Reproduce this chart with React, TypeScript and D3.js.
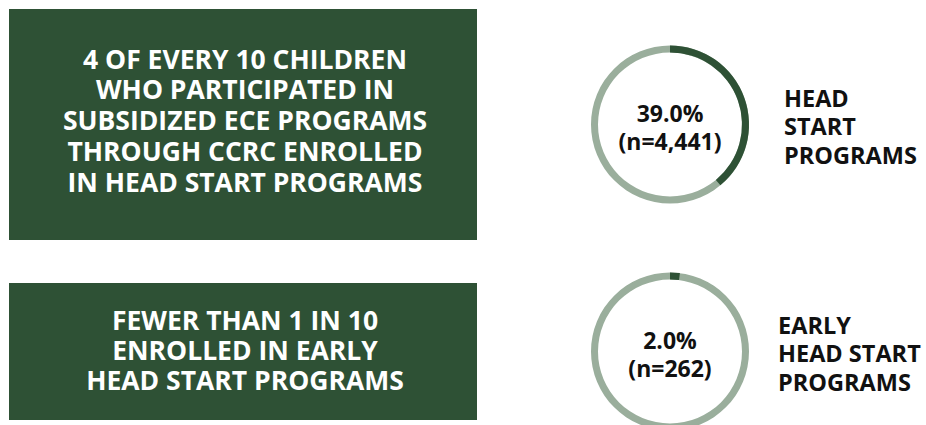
import React from "react";
import * as d3 from "d3";

const boxTexts: string[][] = [
  ["4 OF EVERY 10 CHILDREN", "WHO PARTICIPATED IN", "SUBSIDIZED ECE PROGRAMS", "THROUGH CCRC ENROLLED", "IN HEAD START PROGRAMS"],
  ["FEWER THAN 1 IN 10", "ENROLLED IN EARLY", "HEAD START PROGRAMS"],
];
const shares: number[] = [39.0, 2.0];
const counts: string[] = ["4,441", "262"];
const labels: string[][] = [
  ["HEAD", "START", "PROGRAMS"],
  ["EARLY", "HEAD START", "PROGRAMS"],
];

const DARK = "#2e5135";
const LIGHT = "#9aae9c";
const FONT = "'Open Sans', 'Noto Sans', sans-serif";

const panels = [
  { boxY: 9, boxH: 231, cy: 124.5, textCy: 121, lineH: 30.8, labelX: 784, labelCy: 127 },
  { boxY: 283, boxH: 137, cy: 351.5, textCy: 351, lineH: 30, labelX: 778, labelCy: 354 },
];

export default function App() {
  const W = 926, H = 425;
  const cx = 670, rOuter = 79, rInner = 72;
  const angle = d3.scaleLinear().domain([0, 100]).range([0, 2 * Math.PI]);
  const arc = d3.arc<any>().innerRadius(rInner).outerRadius(rOuter);
  return (
    <svg width={W} height={H} style={{ position: "absolute", left: 0, top: 0, fontFamily: FONT }}>
      <rect width={W} height={H} fill="#fff" />
      {panels.map((p, i) => {
        const lines = boxTexts[i];
        const lab = labels[i];
        return (
          <g key={i}>
            <rect x={9} y={p.boxY} width={468} height={p.boxH} fill={DARK} />
            {lines.map((t, j) => (
              <text key={j} x={245} y={p.textCy + (j - (lines.length - 1) / 2) * p.lineH} dy="0.35em"
                textAnchor="middle" fill="#fff" fontSize={26.5} fontWeight={700}>{t}</text>
            ))}
            <path transform={`translate(${cx},${p.cy})`} d={arc({ startAngle: 0, endAngle: 2 * Math.PI }) as string} fill={LIGHT} />
            <path transform={`translate(${cx},${p.cy})`} d={arc({ startAngle: 0, endAngle: angle(shares[i]) }) as string} fill={DARK} />
            <text x={cx} y={p.cy - 11} dy="0.35em" textAnchor="middle" fill="#111" fontSize={23} fontWeight={700}>{shares[i].toFixed(1)}%</text>
            <text x={cx} y={p.cy + 17} dy="0.35em" textAnchor="middle" fill="#111" fontSize={23} fontWeight={700}>(n={counts[i]})</text>
            {lab.map((t, j) => (
              <text key={j} x={p.labelX} y={p.labelCy + (j - 1) * 28.5} dy="0.35em" fill="#111" fontSize={23.5} fontWeight={700}>{t}</text>
            ))}
          </g>
        );
      })}
    </svg>
  );
}
